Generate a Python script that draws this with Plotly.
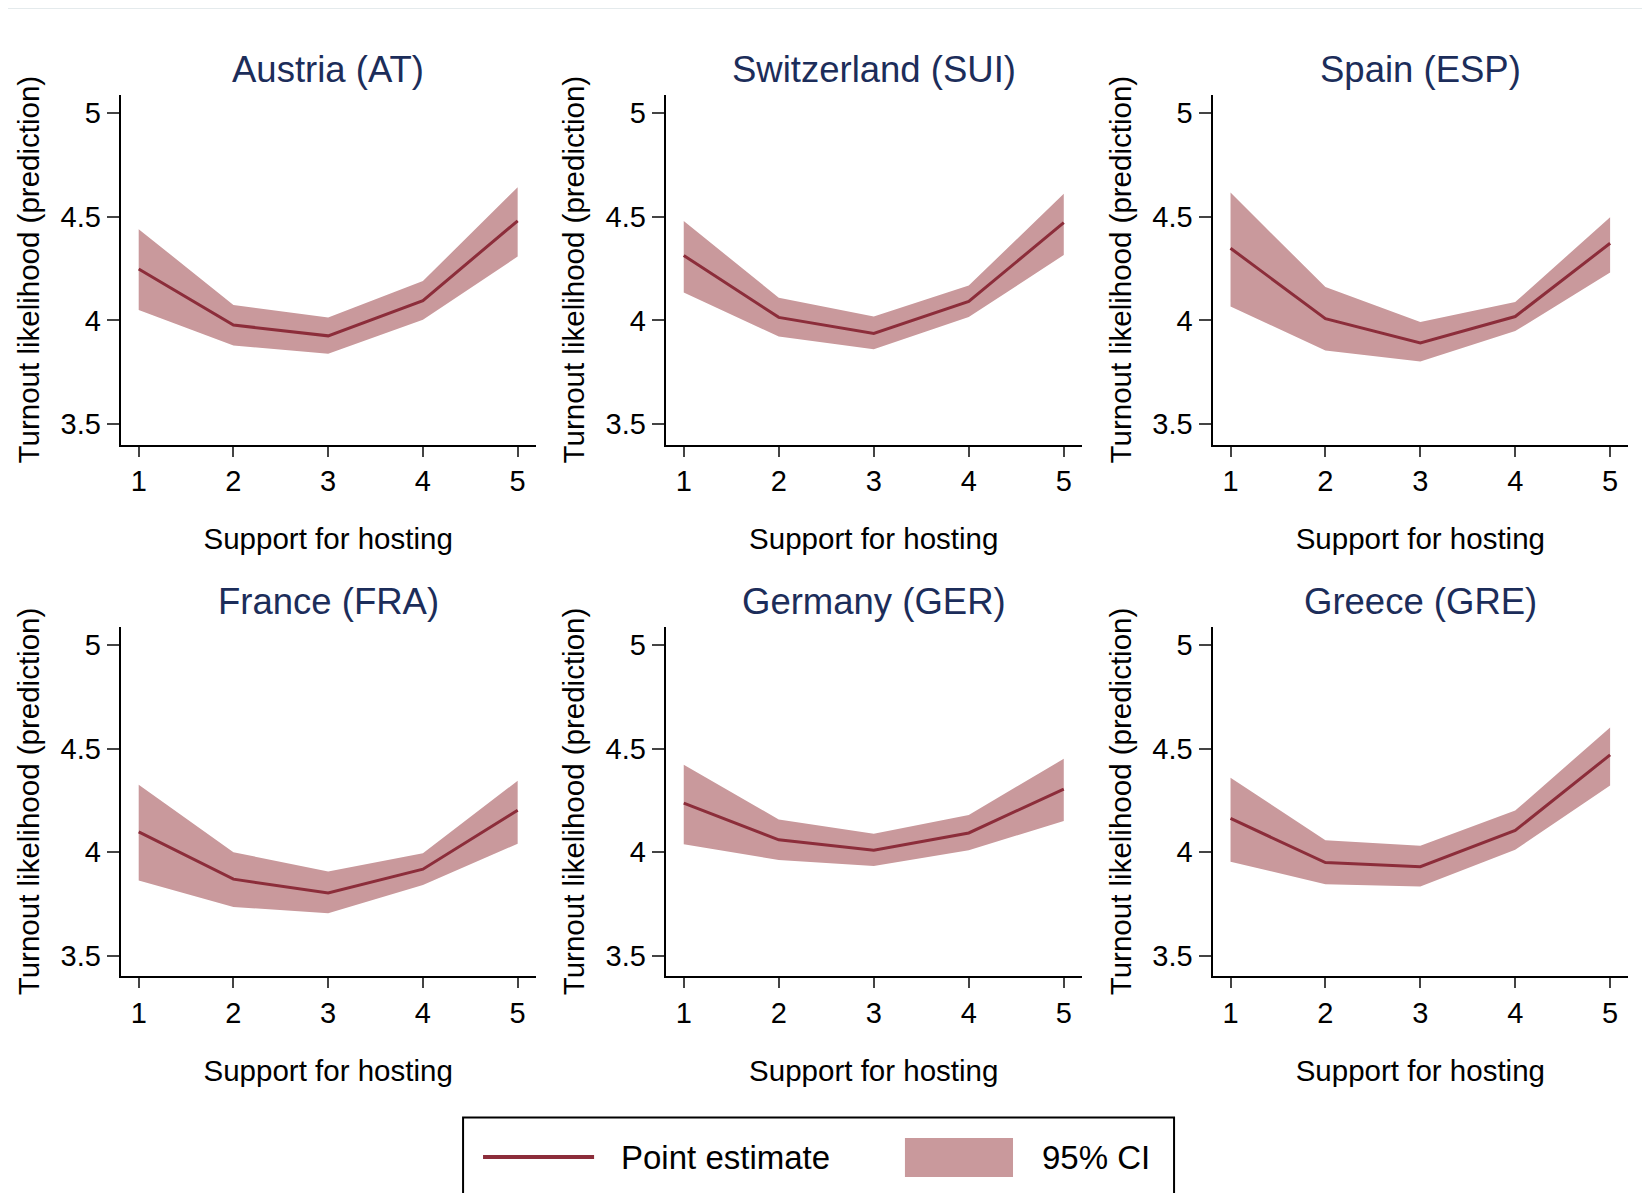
import plotly.graph_objects as go
from plotly.subplots import make_subplots

# x values: support for hosting (1-5)
support = [1, 2, 3, 4, 5]

countries = ["Austria (AT)", "Switzerland (SUI)", "Spain (ESP)",
             "France (FRA)", "Germany (GER)", "Greece (GRE)"]

# point estimates and 95% CI bounds
austria_est = [4.248, 3.978, 3.926, 4.096, 4.480]
austria_lo = [4.050, 3.880, 3.840, 4.003, 4.308]
austria_hi = [4.440, 4.075, 4.014, 4.190, 4.642]

switzerland_est = [4.313, 4.015, 3.938, 4.092, 4.471]
switzerland_lo = [4.135, 3.923, 3.861, 4.017, 4.315]
switzerland_hi = [4.479, 4.110, 4.019, 4.168, 4.611]

spain_est = [4.348, 4.009, 3.892, 4.019, 4.372]
spain_lo = [4.067, 3.856, 3.803, 3.949, 4.231]
spain_hi = [4.616, 4.161, 3.993, 4.089, 4.497]

france_est = [4.098, 3.870, 3.803, 3.918, 4.203]
france_lo = [3.863, 3.736, 3.705, 3.842, 4.041]
france_hi = [4.326, 4.000, 3.907, 3.995, 4.345]

germany_est = [4.237, 4.060, 4.010, 4.093, 4.305]
germany_lo = [4.039, 3.962, 3.933, 4.010, 4.151]
germany_hi = [4.422, 4.158, 4.089, 4.180, 4.451]

greece_est = [4.163, 3.950, 3.930, 4.105, 4.470]
greece_lo = [3.954, 3.846, 3.834, 4.012, 4.322]
greece_hi = [4.359, 4.058, 4.031, 4.201, 4.602]

y_ticks = [3.5, 4, 4.5, 5]
y_ticktext = ["3.5", "4", "4.5", "5"]

series = [
    (austria_est, austria_lo, austria_hi),
    (switzerland_est, switzerland_lo, switzerland_hi),
    (spain_est, spain_lo, spain_hi),
    (france_est, france_lo, france_hi),
    (germany_est, germany_lo, germany_hi),
    (greece_est, greece_lo, greece_hi),
]

LINE = "#8c2d3a"
FILL = "#c9999c"
TITLE_COLOR = "#1c2d5a"
FONT = "Liberation Sans"

# panel placement (the page body adds an 8px offset, compensated here)
x_domains = [[0.0683, 0.3198], [0.3986, 0.6508], [0.7300, 0.9819]]
y_domains = [[0.6340, 0.9274], [0.1885, 0.4813]]
title_y = [0.9484, 0.5029]

fig = make_subplots(rows=2, cols=3)

for i, (est, lo, hi) in enumerate(series):
    r, c = i // 3 + 1, i % 3 + 1
    # CI band: upper edge then fill down to lower edge
    fig.add_trace(go.Scatter(x=support, y=hi, mode="lines", line=dict(width=0),
                             hoverinfo="skip", showlegend=False), row=r, col=c)
    fig.add_trace(go.Scatter(x=support, y=lo, mode="lines", line=dict(width=0),
                             fill="tonexty", fillcolor=FILL,
                             showlegend=False), row=r, col=c)
    fig.add_trace(go.Scatter(x=support, y=est, mode="lines",
                             line=dict(color=LINE, width=3),
                             showlegend=False), row=r, col=c)

    fig.update_xaxes(domain=x_domains[c - 1], range=[0.81, 5.19],
                     tickvals=support, ticks="outside", ticklen=10, tickwidth=2,
                     showline=True, linecolor="black", linewidth=2,
                     showgrid=False, zeroline=False,
                     tickfont=dict(size=29, color="black"),
                     title=dict(text="Support for hosting", standoff=32,
                                font=dict(size=29.5, color="black")),
                     row=r, col=c)
    fig.update_yaxes(domain=y_domains[r - 1], range=[3.402, 5.088],
                     tickvals=y_ticks, ticktext=y_ticktext,
                     ticks="outside", ticklen=12, tickwidth=2,
                     showline=True, linecolor="black", linewidth=2,
                     showgrid=False, zeroline=False,
                     tickfont=dict(size=29, color="black"),
                     title=dict(text="Turnout likelihood (prediction)", standoff=12,
                                font=dict(size=29.5, color="black")),
                     row=r, col=c)

    xd = x_domains[c - 1]
    fig.add_annotation(text=countries[i], xref="paper", yref="paper",
                       x=(xd[0] + xd[1]) / 2, y=title_y[r - 1],
                       xanchor="center", yanchor="middle", showarrow=False,
                       font=dict(size=36.5, color=TITLE_COLOR))

# legend drawn as a boxed key below the panels
fig.add_shape(type="rect", xref="paper", yref="paper",
              x0=0.2758, x1=0.7067, y0=-0.06, y1=0.0700,
              line=dict(color="black", width=2), fillcolor="white")
fig.add_shape(type="line", xref="paper", yref="paper",
              x0=0.2879, x1=0.3552, y0=0.0369, y1=0.0369,
              line=dict(color=LINE, width=4))
fig.add_shape(type="rect", xref="paper", yref="paper",
              x0=0.5436, x1=0.6091, y0=0.0201, y1=0.0528,
              line=dict(width=0), fillcolor=FILL)
fig.add_annotation(text="Point estimate", xref="paper", yref="paper",
                   x=0.3703, y=0.0362, xanchor="left", yanchor="middle",
                   showarrow=False, font=dict(size=33, color="black"))
fig.add_annotation(text="95% CI", xref="paper", yref="paper",
                   x=0.6255, y=0.0362, xanchor="left", yanchor="middle",
                   showarrow=False, font=dict(size=33, color="black"))

# faint rule along the top edge
fig.add_shape(type="line", xref="paper", yref="paper",
              x0=0, x1=1, y0=0.9996, y1=0.9996,
              line=dict(color="#e4eaec", width=1))

fig.update_layout(
    width=1650, height=1193,
    margin=dict(l=0, r=0, t=0, b=0),
    paper_bgcolor="white", plot_bgcolor="white",
    font=dict(family=FONT, color="black"),
    showlegend=False,
)

fig.write_html("out.html")
